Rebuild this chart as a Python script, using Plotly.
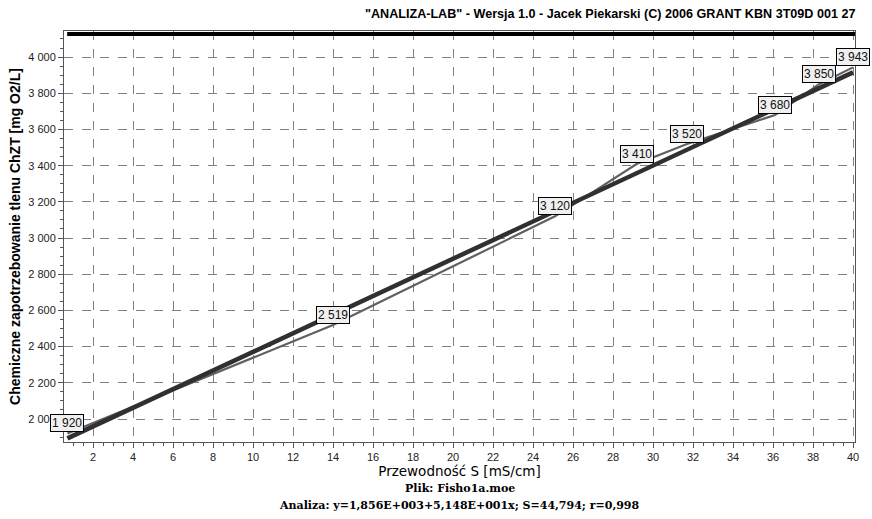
import plotly.graph_objects as go

# data
conductivity = [0.72, 14.0, 25.1, 29.2, 31.7, 36.1, 38.3, 40.0]
cod_values = [1920, 2519, 3120, 3410, 3520, 3680, 3850, 3943]
point_labels = ["1 920", "2 519", "3 120", "3 410", "3 520", "3 680", "3 850", "3 943"]

reg_intercept = 1856.0
reg_slope = 51.48

x_range = [0.55, 40.1]
y_range = [1873, 4144]

title_text = '"ANALIZA-LAB" - Wersja 1.0 - Jacek Piekarski (C) 2006 GRANT KBN 3T09D 001 27'
x_title = "Przewodność S [mS/cm]"
y_title = "Chemiczne zapotrzebowanie tlenu ChZT [mg O2/L]"
file_line = "Plik: Fisho1a.moe"
analysis_line = "Analiza: y=1,856E+003+5,148E+001x; S=44,794; r=0,998"

reg_x = [conductivity[0], conductivity[-1]]
reg_y = [reg_intercept + reg_slope * v for v in reg_x]

fig = go.Figure()
fig.add_trace(go.Scatter(x=conductivity, y=cod_values, mode="lines",
                         line=dict(color="#606060", width=2.2), hoverinfo="skip"))
fig.add_trace(go.Scatter(x=reg_x, y=reg_y, mode="lines",
                         line=dict(color="#303030", width=4.5), hoverinfo="skip"))

for xv, yv, t in zip(conductivity, cod_values, point_labels):
    fig.add_annotation(x=xv, y=yv, text=t, showarrow=False, xanchor="center", yanchor="bottom",
                       yshift=1, bgcolor="#f0f0f0", bordercolor="#000000", borderwidth=1, borderpad=1,
                       font=dict(family="Liberation Sans, Arial", size=12, color="#111111"))

# thick top line
fig.add_shape(type="line", xref="paper", yref="paper", x0=0.004, x1=1.0, y0=0.993, y1=0.993,
              line=dict(color="#000000", width=4))

fig.add_annotation(xref="paper", yref="paper", x=1.0, y=1.0, yshift=8, xshift=2, xanchor="right",
                   yanchor="bottom", text="<b>" + title_text + "</b>", showarrow=False,
                   font=dict(family="Liberation Sans, Arial", size=12.6, color="#000000"))
fig.add_annotation(xref="paper", yref="paper", x=0.5, y=0, yshift=-38, xanchor="center", yanchor="top",
                   text="<b>" + file_line + "</b>", showarrow=False,
                   font=dict(family="DejaVu Serif, Georgia, serif", size=11, color="#000000"))
fig.add_annotation(xref="paper", yref="paper", x=0.5, y=0, yshift=-55, xanchor="center", yanchor="top",
                   text="<b>" + analysis_line + "</b>", showarrow=False,
                   font=dict(family="DejaVu Serif, Georgia, serif", size=11, color="#000000"))

axis_common = dict(showline=True, mirror=True, linecolor="#555555", linewidth=1,
                   showgrid=True, gridcolor="#808080", griddash="dash", gridwidth=1,
                   ticks="outside", ticklen=5, tickcolor="#555555", zeroline=False,
                   tickfont=dict(family="Liberation Sans, Arial", size=11, color="#222222"))

fig.update_xaxes(range=x_range, tick0=0, dtick=2,
                 minor=dict(dtick=0.5, ticklen=3, tickcolor="#555555", ticks="outside", showgrid=False),
                 title=dict(text=x_title, standoff=4,
                            font=dict(family="DejaVu Sans, Tahoma", size=13.5, color="#000000")),
                 **axis_common)
fig.update_yaxes(range=y_range, tick0=0, dtick=200, tickformat=",d",
                 minor=dict(dtick=50, ticklen=3, tickcolor="#555555", ticks="outside", showgrid=False),
                 title=dict(text="<b>" + y_title + "</b>", standoff=4,
                            font=dict(family="Liberation Sans, Arial", size=14, color="#000000")),
                 **axis_common)

fig.update_layout(width=872, height=519, showlegend=False, separators=", ",
                  paper_bgcolor="#ffffff", plot_bgcolor="#ffffff",
                  margin=dict(l=64, r=17, t=31, b=77))

fig.write_html("out.html", config={"displayModeBar": False},
               post_script="document.body.style.margin='0';document.body.style.padding='0';")
